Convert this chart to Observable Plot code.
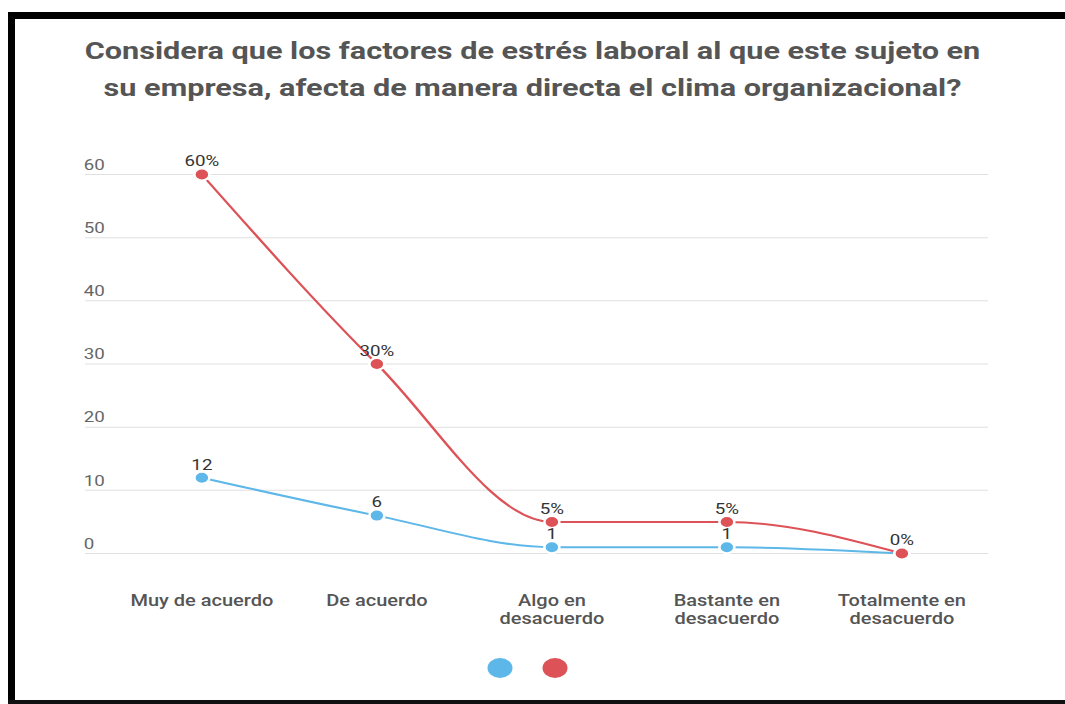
<!DOCTYPE html>
<html><head><meta charset="utf-8">
<script src="https://cdn.jsdelivr.net/npm/d3@7"></script>
<script src="https://cdn.jsdelivr.net/npm/@observablehq/plot@0.6"></script>
<style>
html,body{margin:0;padding:0;background:#fff;width:1065px;height:704px;overflow:hidden;font-family:Roboto,sans-serif}
#frameTop{position:absolute;left:8px;top:12px;width:1057px;height:7px;background:#000}
#frameLeft{position:absolute;left:8px;top:12px;width:7px;height:692px;background:#000}
#frameBottom{position:absolute;left:8px;top:700px;width:1057px;height:4px;background:#111}
#stage{position:absolute;left:0;top:0;width:852px;height:704px;transform:scaleX(1.25);transform-origin:0 0}
#title{position:absolute;left:0;top:32px;width:852px;text-align:center;font-weight:700;font-size:24.5px;line-height:37px;color:#555}
#title span{display:block;white-space:nowrap}
#chart{position:absolute;left:0;top:140px}
#legend{position:absolute;left:-4px;top:658px;width:852px;display:flex;justify-content:center;gap:24px}
.sw{width:20px;height:20px;border-radius:50%}
</style></head>
<body>
<div id="stage">
  <div id="title"><span>Considera que los factores de estrés laboral al que este sujeto en</span><span>su empresa, afecta de manera directa el clima organizacional?</span></div>
  <div id="chart"></div>
  <div id="legend"></div>
</div>
<div id="frameTop"></div><div id="frameLeft"></div><div id="frameBottom"></div>
<script>
const categories = ["Muy de acuerdo","De acuerdo","Algo en\ndesacuerdo","Bastante en\ndesacuerdo","Totalmente en\ndesacuerdo"];
const counts = [12, 6, 1, 1, 0];
const percents = [60, 30, 5, 5, 0];
const yTicks = [0, 10, 20, 30, 40, 50, 60];
const seriesNames = ["Cantidad", "Porcentaje"];
const seriesColors = ["#5DB7E8", "#DD5257"];

const countRows = categories.map((c, i) => ({cat: c, value: counts[i], series: seriesNames[0], label: String(counts[i])}));
const pctRows = categories.map((c, i) => ({cat: c, value: percents[i], series: seriesNames[1], label: percents[i] + "%"}));
const rows = countRows.concat(pctRows);
// the count label "0" sits hidden under "0%" in the reference
const labelRows = countRows.filter(d => d.value > 0).concat(pctRows);

const chart = Plot.plot({
  width: 852,
  height: 500,
  marginTop: 34,
  marginBottom: 87,
  marginLeft: 68,
  marginRight: 61.6,
  style: {fontFamily: "Roboto, sans-serif", background: "transparent"},
  x: {type: "point", domain: categories, padding: 0.58, align: 0.571, label: null},
  y: {domain: [0, 60], label: null},
  color: {domain: seriesNames, range: seriesColors},
  marks: [
    Plot.gridY(yTicks, {stroke: "#e0e0e0", strokeOpacity: 1}),
    Plot.axisY(yTicks, {tickSize: 0, textAnchor: "start", dx: 7.5, dy: -9.5, fontSize: 15, fill: "#666", label: null}),
    Plot.axisX({tickSize: 0, dy: 31, fontSize: 16, fontWeight: 500, fill: "#555", lineHeight: 1.125, label: null}),
    Plot.line(rows, {x: "cat", y: "value", z: "series", stroke: "series", strokeWidth: 2, curve: "monotone-x"}),
    Plot.dot(rows, {x: "cat", y: "value", fill: "series", stroke: "white", strokeWidth: 2, r: 6}),
    Plot.text(labelRows, {x: "cat", y: "value", text: "label", dy: -13, fontSize: 15, fill: "#333"})
  ]
});
document.getElementById("chart").appendChild(chart);

const legend = document.getElementById("legend");
seriesColors.forEach(c => {
  const s = document.createElement("div");
  s.className = "sw";
  s.style.background = c;
  legend.appendChild(s);
});
</script>
</body></html>
